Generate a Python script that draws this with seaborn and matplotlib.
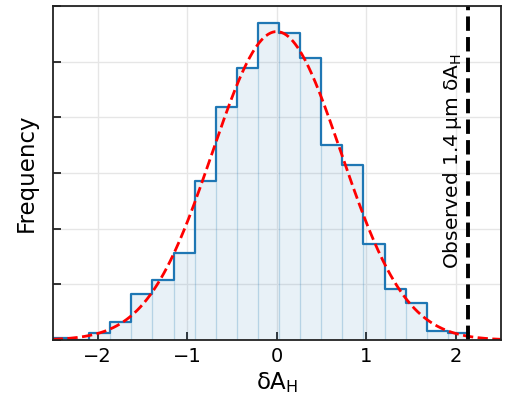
import numpy as np
import pandas as pd
import matplotlib
matplotlib.use("Agg")
import matplotlib.pyplot as plt
import seaborn as sns

# Histogram of the simulated delta A_H distribution (density per bin)
bin_edges = [-2.5645, -2.329, -2.0935, -1.858, -1.6225, -1.387, -1.1515,
             -0.916, -0.6805, -0.445, -0.2095, 0.026, 0.2615, 0.497,
             0.7325, 0.968, 1.2035, 1.439, 1.6745, 1.91, 2.1455]
bin_density = [0.004, 0.0, 0.012, 0.033, 0.082, 0.108, 0.156, 0.285,
               0.418, 0.488, 0.569, 0.552, 0.507, 0.351, 0.315, 0.172,
               0.092, 0.066, 0.016, 0.013]

# Gaussian fit parameters
fit_mean = 0.0
fit_sigma = 0.72

# Observed value
observed_value = 2.135
observed_label = "Observed 1.4\u2009μm δA$_\\mathrm{H}$"

x_ticks = [-2, -1, 0, 1, 2]
y_ticks = [0.0, 0.1, 0.2, 0.3, 0.4, 0.5, 0.6]

edges = np.array(bin_edges)
df = pd.DataFrame({
    "center": 0.5 * (edges[:-1] + edges[1:]),
    "density": bin_density,
})

sns.set_theme(style="whitegrid")
plt.rcParams["font.family"] = ["DejaVu Sans"]

fig = plt.figure(figsize=(5.05, 4.01), dpi=100)
ax = fig.add_axes([0.1044, 0.152, 0.887, 0.833])

# translucent filled bars with faint edges
sns.histplot(data=df, x="center", weights="density", bins=list(bin_edges),
             stat="count", element="bars", fill=True, color="#1f77b4",
             linewidth=0.9, ax=ax)
for bar in ax.patches:
    bar.set_alpha(None)
    bar.set_facecolor((0.12, 0.47, 0.71, 0.1))
    bar.set_edgecolor((0.12, 0.47, 0.71, 0.13))

# solid step outline
sns.histplot(data=df, x="center", weights="density", bins=list(bin_edges),
             stat="count", element="step", fill=False, color="#1f77b4",
             linewidth=1.6, ax=ax)

xs = np.linspace(-2.5, 2.5, 400)
pdf = np.exp(-0.5 * ((xs - fit_mean) / fit_sigma) ** 2) / (fit_sigma * np.sqrt(2 * np.pi))
sns.lineplot(x=xs, y=pdf, color="red", linestyle="--", linewidth=2.0, ax=ax)

ax.axvline(observed_value, color="black", linestyle="--", linewidth=2.8)
ax.text(1.96, 0.322, observed_label, rotation=90, ha="center", va="center",
        fontsize=14.5, color="black")

ax.set_xlim(-2.5, 2.5)
ax.set_ylim(0, 0.6)
ax.set_xticks(x_ticks)
ax.set_xticklabels([f"{t}".replace("-", "\u2212") for t in x_ticks])
ax.set_yticks(y_ticks)
ax.set_yticklabels([])
ax.set_xlabel("δA$_\\mathrm{H}$", fontsize=16.5, labelpad=3, color="black")
ax.set_ylabel("Frequency", fontsize=16.5, labelpad=7, color="black")

ax.grid(True, color="#e6e6e6", linewidth=1.0)
ax.set_axisbelow(True)
for side in ["left", "bottom", "top", "right"]:
    ax.spines[side].set_color("#222222")
    ax.spines[side].set_linewidth(1.3)
ax.tick_params(axis="both", direction="in", length=6, width=1.3,
               colors="#222222", labelsize=14, left=True, bottom=True,
               top=False, right=False)
ax.tick_params(axis="x", pad=5, labelcolor="black")

fig.savefig("out.png", dpi=100)
